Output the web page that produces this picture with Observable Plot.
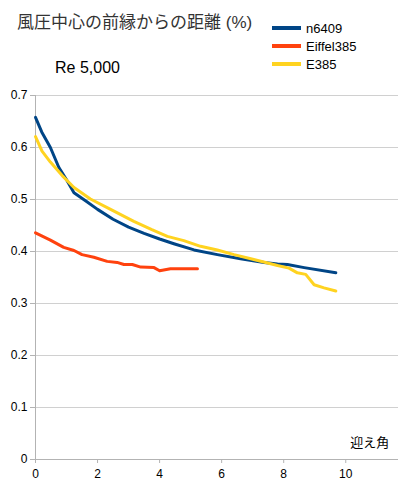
<!DOCTYPE html>
<html><head><meta charset="utf-8">
<script src="https://cdn.jsdelivr.net/npm/d3@7"></script>
<script src="https://cdn.jsdelivr.net/npm/@observablehq/plot@0.6"></script>
<style>
body{margin:0;background:#fff;font-family:"Liberation Sans",Arial,sans-serif;}
#wrap{position:relative;width:400px;height:500px;}
#title{position:absolute;left:17px;top:8px;font-size:17px;color:#333;font-family:"Liberation Sans","Noto Sans CJK JP",sans-serif;}
#sub{position:absolute;left:55px;top:59px;font-size:16px;color:#000;}
#legend{position:absolute;left:272px;top:19px;font-size:13px;color:#000;}
.li{display:flex;align-items:center;height:18px;}
.sw{width:29px;height:4px;margin-right:5px;}
#chart{position:absolute;left:0;top:0;}
</style></head><body>
<div id="wrap"><div id="chart"></div>
<div id="title">風圧中心の前縁からの距離 (%)</div>
<div id="sub">Re 5,000</div>
<div id="legend"></div></div>
<script>
const seriesNames = ["n6409","Eiffel385","E385"];
const seriesColors = ["#004586","#ff420e","#ffd320"];
const n6409X = [0,0.2,0.48,0.75,1.0,1.24,1.6,2.0,2.5,3.0,3.5,4.0,4.46,5.11,5.86,6.61,7.37,7.8,8.12,8.66,9.68];
const n6409Y = [0.658,0.630,0.600,0.562,0.538,0.513,0.498,0.481,0.462,0.447,0.435,0.424,0.415,0.403,0.394,0.386,0.379,0.376,0.375,0.369,0.359];
const eiffelX = [0,0.48,0.91,1.24,1.5,1.88,2.31,2.63,2.85,3.12,3.39,3.82,4.0,4.35,5.22];
const eiffelY = [0.436,0.422,0.408,0.402,0.394,0.389,0.381,0.379,0.375,0.375,0.370,0.369,0.363,0.367,0.367];
const e385X = [0,0.21,0.48,0.86,1.24,1.77,2.42,3.17,3.75,4.25,4.78,5.32,5.86,6.4,6.94,7.42,7.8,8.17,8.44,8.71,8.98,9.3,9.68];
const e385Y = [0.621,0.593,0.572,0.546,0.523,0.501,0.481,0.458,0.442,0.429,0.421,0.410,0.403,0.394,0.386,0.379,0.373,0.368,0.359,0.356,0.336,0.330,0.324];
const yTicks = [0,0.1,0.2,0.3,0.4,0.5,0.6,0.7];
const xTicks = [0,2,4,6,8,10];
const xLabel = "迎え角";

const data = [];
[[n6409X,n6409Y],[eiffelX,eiffelY],[e385X,e385Y]].forEach(([xs,ys],i)=>{
  xs.forEach((x,j)=>data.push({s:seriesNames[i],x,y:ys[j]}));
});
const yFmt = d=>d===0?"0":d3.format(".1f")(d);

const chart = Plot.plot({
  width:400,height:500,
  marginTop:95,marginBottom:41,marginLeft:35,marginRight:2,
  style:{fontFamily:"Liberation Sans, Arial, sans-serif",fontSize:"12px",color:"#000",background:"transparent"},
  x:{domain:[0,11.7],label:null},
  y:{domain:[0,0.7],label:null},
  color:{domain:seriesNames,range:seriesColors},
  marks:[
    Plot.gridY(yTicks.filter(d=>d>0),{stroke:"#d0d0d0",strokeOpacity:1}),
    Plot.ruleY([0],{stroke:"#b3b3b3"}),
    Plot.ruleX([0],{stroke:"#b3b3b3"}),
    Plot.axisX({ticks:xTicks,tickFormat:d=>String(d),tickSize:4,stroke:"#b3b3b3",tickPadding:6,fill:"#000",label:null}),
    Plot.axisY({ticks:yTicks,tickFormat:yFmt,tickSize:5,stroke:"#b3b3b3",tickPadding:3,fill:"#000",label:null}),
    Plot.line(data,{x:"x",y:"y",z:"s",stroke:"s",strokeWidth:3,curve:"linear"}),
    Plot.text([xLabel],{x:11.4,y:0.032,text:d=>d,textAnchor:"end",fontSize:13,fontFamily:"Noto Sans CJK JP"})
  ]
});
document.getElementById("chart").appendChild(chart);
const lg=document.getElementById("legend");
seriesNames.forEach((n,i)=>{
  const d=document.createElement("div");d.className="li";
  d.innerHTML=`<span class="sw" style="background:${seriesColors[i]}"></span><span>${n}</span>`;
  lg.appendChild(d);
});
</script></body></html>
